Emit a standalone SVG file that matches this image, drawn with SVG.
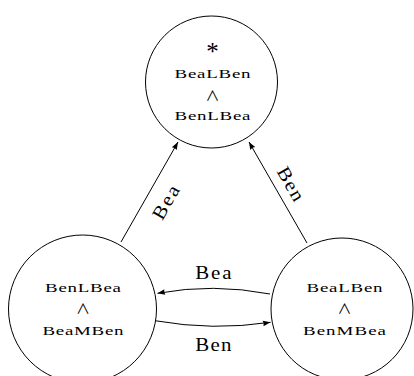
<svg xmlns="http://www.w3.org/2000/svg" width="414" height="376" viewBox="0 0 414 376">
  <style>
    .state { fill: #ffffff; stroke: #000000; stroke-width: 1; }
    .node-text { font-family: "Liberation Serif", "DejaVu Serif", serif; font-size: 13.5px; fill: #000000; text-anchor: middle; }
    .star { font-family: "Liberation Serif", "DejaVu Serif", serif; font-size: 25px; fill: #000000; text-anchor: middle; }
    .op { font-family: "Noto Sans CJK JP", "DejaVu Sans", sans-serif; font-size: 14px; fill: #000000; text-anchor: middle; }
    .edge { fill: none; stroke: #000000; stroke-width: 1; marker-end: url(#tip); }
    .edge-label { font-family: "Liberation Serif", "DejaVu Serif", serif; font-size: 19px; fill: #000000; text-anchor: middle; }
  </style>
  <defs>
    <marker id="tip" viewBox="-8 -4 9 8" refX="0" refY="0" markerWidth="9" markerHeight="8" markerUnits="userSpaceOnUse" orient="auto">
      <path d="M0,0 L-7.5,-2.8 Q-6,0 -7.5,2.8 Z" fill="#000000"/>
    </marker>
  </defs>

  <!-- connectors -->
  <g id="connectors">
    <path class="edge" d="M121,242 L178,142"/>
    <path class="edge" d="M307,243 L249,142"/>
    <path class="edge" d="M270,294 Q213,283 157.5,293.3"/>
    <path class="edge" d="M155,320.7 Q213,331 270.5,322.3"/>
    <g transform="translate(166,202.5) rotate(-60) scale(1.1,1)">
      <text class="edge-label" x="0" y="6" textLength="33" lengthAdjust="spacing">Bea</text>
    </g>
    <g transform="translate(290.5,184) rotate(60) scale(1.1,1)">
      <text class="edge-label" x="0" y="6" textLength="33" lengthAdjust="spacing">Ben</text>
    </g>
    <g transform="translate(213.3,278.5) scale(1.1,1)">
      <text class="edge-label" x="0" y="0" textLength="33" lengthAdjust="spacing">Bea</text>
    </g>
    <g transform="translate(213.3,350.5) scale(1.1,1)">
      <text class="edge-label" x="0" y="0" textLength="33" lengthAdjust="spacing">Ben</text>
    </g>
  </g>

  <!-- top state -->
  <g id="node-top">
    <circle class="state" cx="211.5" cy="82" r="66"/>
    <text class="star" x="212.5" y="60">*</text>
    <g transform="translate(212.5,0) scale(1.4,1)">
      <text class="node-text" x="0" y="78" textLength="54.3" lengthAdjust="spacing">BeaLBen</text>
      <text class="node-text" x="0" y="120" textLength="54.3" lengthAdjust="spacing">BenLBea</text>
    </g>
    <text class="op" x="212.5" y="101">∧</text>
  </g>

  <!-- bottom-left state -->
  <g id="node-left">
    <circle class="state" cx="82.5" cy="309" r="74"/>
    <g transform="translate(83,0) scale(1.4,1)">
      <text class="node-text" x="0" y="292" textLength="54.3" lengthAdjust="spacing">BenLBea</text>
      <text class="node-text" x="0" y="335" textLength="57.9" lengthAdjust="spacing">BeaMBen</text>
    </g>
    <text class="op" x="83" y="314">∧</text>
  </g>

  <!-- bottom-right state -->
  <g id="node-right">
    <circle class="state" cx="342" cy="309" r="71"/>
    <g transform="translate(344.5,0) scale(1.4,1)">
      <text class="node-text" x="0" y="292" textLength="54.3" lengthAdjust="spacing">BeaLBen</text>
      <text class="node-text" x="0" y="335" textLength="59.3" lengthAdjust="spacing">BenMBea</text>
    </g>
    <text class="op" x="344.5" y="314">∧</text>
  </g>
</svg>
